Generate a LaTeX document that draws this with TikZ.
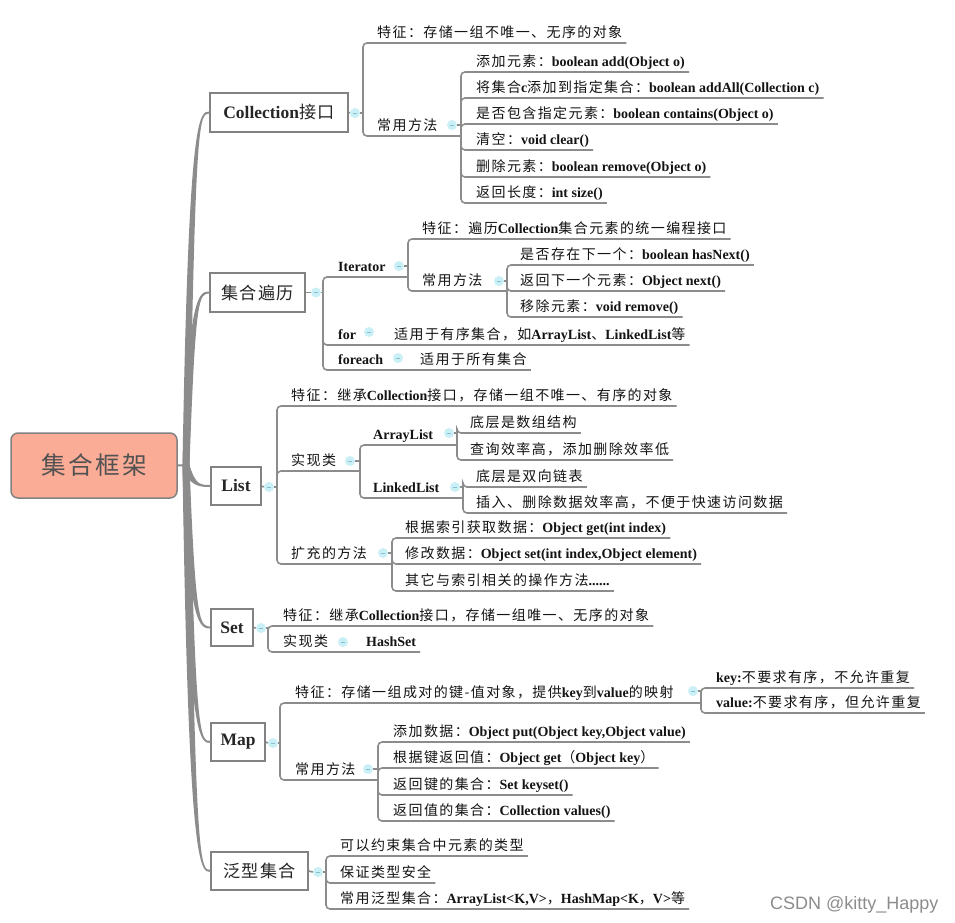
\documentclass[tikz,border=0pt]{standalone}
\usepackage{fontspec}
\setmainfont{Liberation Serif}
\newfontfamily\zh[Scale=1.0,LetterSpace=10]{Noto Sans CJK SC}
\newfontfamily\zhL[Scale=0.98,LetterSpace=8]{Noto Sans CJK SC}
\newfontfamily\zhR[Scale=1.12,LetterSpace=10]{Noto Sans CJK SC}
\newfontfamily\wm{Liberation Sans}
\usetikzlibrary{calc}
\definecolor{linec}{RGB}{140,140,140}
\definecolor{boxc}{RGB}{130,130,130}
\definecolor{rootfill}{RGB}{250,172,150}
\definecolor{togfill}{RGB}{200,240,246}
\definecolor{togdash}{RGB}{140,190,200}
\definecolor{txt}{RGB}{20,20,20}
\newcommand\z[1]{{\zh\mdseries #1}}
\newcommand\zl[1]{{\zhL\mdseries #1}}
\tikzset{
 br/.style={draw=linec, line width=1.6pt, rounded corners=4pt},
 stub/.style={draw=linec, line width=1.6pt},
 l1/.style={draw=boxc, line width=1.6pt, fill=white, inner sep=0pt, text=black!85, font=\fontsize{17.5}{20}\selectfont\bfseries},
 leaf/.style={anchor=south west, inner xsep=4pt, inner ysep=2.2pt, text height=11pt, text depth=3.5pt, text=txt, font=\fontsize{14}{16}\selectfont\bfseries},
 tog/.style={circle, fill=togfill, minimum size=10pt, inner sep=0pt, path picture={\draw[togdash, line width=0.6pt] ([xshift=-2.2pt]path picture bounding box.center) -- ([xshift=2.2pt]path picture bounding box.center);}},
 trunkc/.style={fill=linec},
}
\newcommand\trunkto[3]{\fill[trunkc] ($(J)+(-3.5,0)$) .. controls ($(J|-#1.west)+(2.5,#2)$) and ($(#1.west)+(-10,#2)$) .. ($(#1.west)+(0.5,#2)$) -- ($(#1.west)+(0.5,#3)$) .. controls ($(#1.west)+(-10,#3)$) and ($(J|-#1.west)+(9.5,#3)$) .. ($(J)+(3.5,0)$) -- cycle;}
\begin{document}
\begin{tikzpicture}[x=1pt,y=-1pt]
\fill[white] (0,0) rectangle (955,922);
\useasboundingbox (0,0) rectangle (955,922);

% root and level 1
\node[draw=boxc, line width=1.5pt, fill=rootfill, rounded corners=7pt, minimum width=166pt, minimum height=65pt, inner sep=0pt, text=black!68, font=\fontsize{22}{26}\selectfont] (root) at (94,465.5) {{\zhR 集合框架}};
\coordinate (J) at (186,465);
\node[l1, minimum width=138pt, minimum height=39pt] (col) at (279,112.5) {Collection\zl{接口}};
\node[l1, minimum width=95pt, minimum height=39pt] (trav) at (257.5,292.5) {\zl{集合遍历}};
\node[l1, minimum width=50pt, minimum height=38pt] (list) at (236,486) {List};
\node[l1, minimum width=42pt, minimum height=37pt] (set) at (232,627.5) {Set};
\node[l1, minimum width=54pt, minimum height=38pt] (map) at (238,742) {Map};
\node[l1, minimum width=97pt, minimum height=38pt] (gen) at (259.5,871) {\zl{泛型集合}};

\draw[stub, line width=2pt] (root.east) -- (J);
\trunkto{col}{-1}{1}
\trunkto{trav}{-1}{1}
\trunkto{list}{1}{-1}
\trunkto{set}{1}{-1}
\trunkto{map}{1}{-1}
\trunkto{gen}{1}{-1}

% Collection
\node[tog] (cA) at (355,113) {};
\coordinate (vA) at (363,113);
\node[leaf] (a1) at (373,43) {\z{特征：存储一组不唯一、无序的对象}};
\node[leaf] (a2) at (373,136) {\z{常用方法}};
\node[tog] (cA2) at (452,125) {};
\coordinate (vAA) at (461,125);
\node[leaf] (a21) at (472,72) {\z{添加元素：}boolean add(Object o)};
\node[leaf] (a22) at (472,98) {\z{将集合}c\z{添加到指定集合：}boolean addAll(Collection c)};
\node[leaf] (a23) at (472,124) {\z{是否包含指定元素：}boolean contains(Object o)};
\node[leaf] (a24) at (472,150) {\z{清空：}void clear()};
\node[leaf] (a25) at (472,177) {\z{删除元素：}boolean remove(Object o)};
\node[leaf] (a26) at (472,203) {\z{返回长度：}int size()};
\draw[stub] (col.east) -- (cA.west);
\draw[stub] (cA.east) -- (vA);
\draw[br] (vA) |- (a1.south east);
\draw[br] (vA) |- (vAA|-a2.south);
\draw[stub] (cA2.east) -- (vAA);
\foreach \n in {a21,a22,a23,a24,a25,a26} \draw[br] (vAA) |- (\n.south east);

% traversal
\node[tog] (cB) at (316,292.5) {};
\coordinate (vB) at (323,292.5);
\node[leaf] (b1) at (334,277) {Iterator};
\node[tog] (cB1) at (399,266) {};
\coordinate (vBB) at (408,266);
\node[leaf] (b11) at (418,239) {\z{特征：遍历}Collection\z{集合元素的统一编程接口}};
\node[leaf] (b12) at (418,291) {\z{常用方法}};
\node[tog] (cB12) at (499,281) {};
\coordinate (vBBB) at (507,281);
\node[leaf] (b121) at (516,265) {\z{是否存在下一个：}boolean hasNext()};
\node[leaf] (b122) at (516,291) {\z{返回下一个元素：}Object next()};
\node[leaf] (b123) at (516,317) {\z{移除元素：}void remove()};
\node[leaf] (b2) at (334,345) {for};
\node[tog] (cB2) at (369,332) {};
\node[leaf] (b21) at (390,345) {\z{适用于有序集合，如}ArrayList\z{、}LinkedList\z{等}};
\node[leaf] (b3) at (334,370) {foreach};
\node[tog] (cB3) at (398,358) {};
\node[leaf] (b31) at (416,370) {\z{适用于所有集合}};
\draw[stub] (trav.east) -- (cB.west);
\draw[stub] (cB.east) -- (vB);
\draw[br] (vB) |- (vBB|-b1.south);
\draw[br] (vB) |- (b21.south east);
\draw[br] (vB) |- (b31.south east);
\draw[stub] (cB1.east) -- (vBB);
\draw[br] (vBB) |- (b11.south east);
\draw[br] (vBB) |- (vBBB|-b12.south);
\draw[stub] (cB12.east) -- (vBBB);
\foreach \n in {b121,b122,b123} \draw[br] (vBBB) |- (\n.south east);

% List
\node[tog] (cC) at (269,487) {};
\coordinate (vC) at (277,487);
\node[leaf] (c1) at (287,406) {\z{特征：继承}Collection\z{接口，存储一组不唯一、有序的对象}};
\node[leaf] (c2) at (287,471) {\z{实现类}};
\node[tog] (cC2) at (350,461) {};
\coordinate (vCC) at (360,461);
\node[leaf] (c21) at (369,445) {ArrayList};
\node[tog] (cC21) at (449,433) {};
\coordinate (vCa) at (457,433);
\node[leaf] (c211) at (466,433) {\z{底层是数组结构}};
\node[leaf] (c212) at (466,460) {\z{查询效率高，添加删除效率低}};
\node[leaf] (c22) at (369,498) {LinkedList};
\node[tog] (cC22) at (455,487) {};
\coordinate (vCb) at (463,487);
\node[leaf] (c221) at (472,487) {\z{底层是双向链表}};
\node[leaf] (c222) at (472,513) {\z{插入、删除数据效率高，不便于快速访问数据}};
\node[leaf] (c3) at (287,564) {\z{扩充的方法}};
\node[tog] (cC3) at (383,553) {};
\coordinate (vCD) at (392,553);
\node[leaf] (c31) at (401,538) {\z{根据索引获取数据：}Object get(int index)};
\node[leaf] (c32) at (401,564) {\z{修改数据：}Object set(int index,Object element)};
\node[leaf] (c33) at (401,591) {\z{其它与索引相关的操作方法}......};
\draw[stub] (list.east) -- (cC.west);
\draw[stub] (cC.east) -- (vC);
\draw[br] (vC) |- (c1.south east);
\draw[br] (vC) |- (vCC|-c2.south);
\draw[br] (vC) |- (vCD|-c3.south);
\draw[stub] (cC2.east) -- (vCC);
\draw[br] (vCC) |- (vCa|-c21.south);
\draw[br] (vCC) |- (vCb|-c22.south);
\draw[stub] (cC21.east) -- (vCa);
\draw[br] (vCa) |- (c211.south east);
\draw[br] (vCa) |- (c212.south east);
\draw[stub] (cC22.east) -- (vCb);
\draw[br] (vCb) |- (c221.south east);
\draw[br] (vCb) |- (c222.south east);
\draw[stub] (cC3.east) -- (vCD);
\foreach \n in {c31,c32,c33} \draw[br] (vCD) |- (\n.south east);

% Set
\node[tog] (cD) at (261,628) {};
\coordinate (vD) at (268,628);
\node[leaf] (d1) at (279,626) {\z{特征：继承}Collection\z{接口，存储一组唯一、无序的对象}};
\node[leaf] (d2) at (279,652) {\z{实现类}};
\node[tog] (cD2) at (343,642) {};
\node[leaf] (d21) at (362,652) {HashSet};
\draw[stub] (set.east) -- (cD.west);
\draw[stub] (cD.east) -- (vD);
\draw[br] (vD) |- (d1.south east);
\draw[br] (vD) |- (d21.south east);

% Map
\node[tog] (cE) at (273,743) {};
\coordinate (vE) at (280,743);
\node[leaf] (e1) at (291,703) {\z{特征：存储一组成对的键-值对象，提供}key\z{到}value\z{的映射}};
\node[tog] (cE1) at (693,691) {};
\coordinate (vEE) at (701,691);
\node[leaf] (e11) at (712,688) {key:\z{不要求有序，不允许重复}};
\node[leaf] (e12) at (712,713) {value:\z{不要求有序，但允许重复}};
\node[leaf] (e2) at (291,780) {\z{常用方法}};
\node[tog] (cE2) at (368,769) {};
\coordinate (vEF) at (378,769);
\node[leaf] (e21) at (389,742) {\z{添加数据：}Object put(Object key,Object value)};
\node[leaf] (e22) at (389,768) {\z{根据键返回值：}Object get\z{（}Object key\z{）}};
\node[leaf] (e23) at (389,795) {\z{返回键的集合：}Set keyset()};
\node[leaf] (e24) at (389,821) {\z{返回值的集合：}Collection values()};
\draw[stub] (map.east) -- (cE.west);
\draw[stub] (cE.east) -- (vE);
\draw[br] (vE) |- (vEE|-e1.south);
\draw[br] (vE) |- (vEF|-e2.south);
\draw[stub] (cE1.east) -- (vEE);
\draw[br] (vEE) |- (e11.south east);
\draw[br] (vEE) |- (e12.south east);
\draw[stub] (cE2.east) -- (vEF);
\foreach \n in {e21,e22,e23,e24} \draw[br] (vEF) |- (\n.south east);

% Generics
\node[tog] (cF) at (318,872) {};
\coordinate (vF) at (326,872);
\node[leaf] (f1) at (336,856) {\z{可以约束集合中元素的类型}};
\node[leaf] (f2) at (336,883) {\z{保证类型安全}};
\node[leaf] (f3) at (336,909) {\z{常用泛型集合：}ArrayList<K,V>\z{，}HashMap<K\z{，}V>\z{等}};
\draw[stub] (gen.east) -- (cF.west);
\draw[stub] (cF.east) -- (vF);
\foreach \n in {f1,f2,f3} \draw[br] (vF) |- (\n.south east);

% watermark
\node[anchor=base west, inner sep=0pt, text=black!45, font=\wm\fontsize{18}{20}\selectfont] (wmk) at (770,909) {CSDN @kitty\_Happy};
\end{tikzpicture}
\end{document}
